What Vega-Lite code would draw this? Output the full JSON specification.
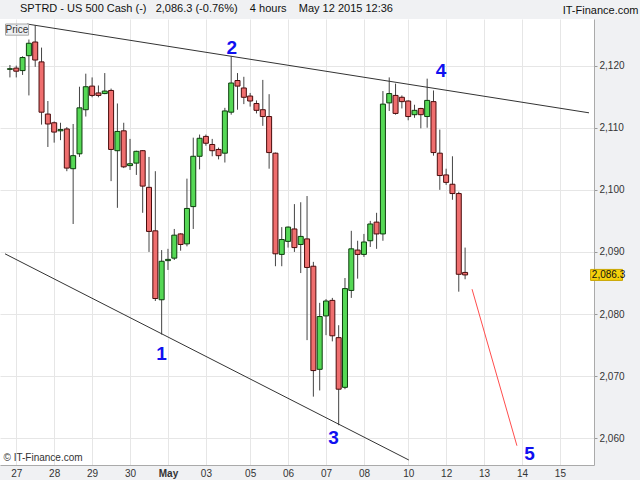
{
  "$schema": "https://vega.github.io/schema/vega-lite/v6.json",
  "width": 594,
  "height": 446,
  "autosize": {"type": "none"},
  "padding": {"left": 0, "top": 19, "right": 46, "bottom": 15},
  "background": "#f0f1f3",
  "title": {
    "text": "SPTRD - US 500 Cash (-)\u00a0\u00a0 2,086.3 (-0.76%)\u00a0\u00a0\u00a0 4 hours\u00a0\u00a0\u00a0 May 12 2015 12:36",
    "anchor": "start",
    "frame": "group",
    "dx": 20,
    "dy": 25,
    "offset": 6,
    "baseline": "alphabetic",
    "fontSize": 11,
    "fontWeight": "normal",
    "color": "#111111"
  },
  "datasets": {
    "candles": [
      {"i": 0, "o": 2119.4, "h": 2120.1, "l": 2118.1, "c": 2119.5},
      {"i": 1, "o": 2119.6, "h": 2120.0, "l": 2118.1, "c": 2119.1},
      {"i": 2, "o": 2119.2, "h": 2121.5, "l": 2118.5, "c": 2121.3},
      {"i": 3, "o": 2121.6, "h": 2124.2, "l": 2115.2, "c": 2123.6},
      {"i": 4, "o": 2123.8, "h": 2126.5, "l": 2119.8, "c": 2120.9},
      {"i": 5, "o": 2120.6, "h": 2122.9, "l": 2110.5, "c": 2112.5},
      {"i": 6, "o": 2112.2, "h": 2114.3, "l": 2106.9, "c": 2110.6},
      {"i": 7, "o": 2110.8, "h": 2111.0, "l": 2107.6, "c": 2109.3},
      {"i": 8, "o": 2109.5, "h": 2110.8, "l": 2108.0, "c": 2109.7},
      {"i": 9, "o": 2109.8, "h": 2110.1, "l": 2103.0, "c": 2103.5},
      {"i": 10, "o": 2103.4, "h": 2110.6, "l": 2094.5, "c": 2105.5},
      {"i": 11, "o": 2105.8, "h": 2116.6, "l": 2105.3, "c": 2113.2},
      {"i": 12, "o": 2112.9, "h": 2118.7, "l": 2111.8, "c": 2116.6},
      {"i": 13, "o": 2116.7, "h": 2118.1, "l": 2114.9, "c": 2115.2},
      {"i": 14, "o": 2115.6, "h": 2116.8, "l": 2114.9, "c": 2115.2},
      {"i": 15, "o": 2115.5, "h": 2118.8, "l": 2115.4, "c": 2115.9},
      {"i": 16, "o": 2116.0, "h": 2116.3, "l": 2101.4, "c": 2106.5},
      {"i": 17, "o": 2106.3, "h": 2113.9, "l": 2097.1, "c": 2109.4},
      {"i": 18, "o": 2109.5, "h": 2110.8, "l": 2103.5, "c": 2103.7},
      {"i": 19, "o": 2103.9, "h": 2108.2, "l": 2103.2, "c": 2104.2},
      {"i": 20, "o": 2104.3, "h": 2106.3, "l": 2102.4, "c": 2106.2},
      {"i": 21, "o": 2106.3, "h": 2106.4, "l": 2096.3, "c": 2100.6},
      {"i": 22, "o": 2100.4, "h": 2105.3, "l": 2090.0, "c": 2093.3},
      {"i": 23, "o": 2093.4, "h": 2103.0, "l": 2082.1, "c": 2082.5},
      {"i": 24, "o": 2082.3, "h": 2090.3, "l": 2076.7, "c": 2088.5},
      {"i": 25, "o": 2088.6, "h": 2090.5, "l": 2087.1, "c": 2088.8},
      {"i": 26, "o": 2089.0, "h": 2093.7, "l": 2088.7, "c": 2092.7},
      {"i": 27, "o": 2092.9, "h": 2093.0, "l": 2090.2, "c": 2091.2},
      {"i": 28, "o": 2091.3, "h": 2101.8, "l": 2090.9, "c": 2097.0},
      {"i": 29, "o": 2097.3, "h": 2108.4, "l": 2093.7, "c": 2105.4},
      {"i": 30, "o": 2105.4, "h": 2108.9, "l": 2103.3, "c": 2108.3},
      {"i": 31, "o": 2108.6, "h": 2108.9, "l": 2107.1, "c": 2107.5},
      {"i": 32, "o": 2107.3, "h": 2108.2, "l": 2105.4, "c": 2106.3},
      {"i": 33, "o": 2106.5, "h": 2106.8, "l": 2104.9, "c": 2105.5},
      {"i": 34, "o": 2105.9, "h": 2113.2, "l": 2104.4, "c": 2112.7},
      {"i": 35, "o": 2112.5, "h": 2121.5, "l": 2112.1, "c": 2117.2},
      {"i": 36, "o": 2117.6, "h": 2118.8, "l": 2112.9, "c": 2116.7},
      {"i": 37, "o": 2116.4, "h": 2118.2, "l": 2113.8, "c": 2114.9},
      {"i": 38, "o": 2115.1, "h": 2115.6, "l": 2113.4, "c": 2114.3},
      {"i": 39, "o": 2113.9, "h": 2114.4, "l": 2112.3, "c": 2112.8},
      {"i": 40, "o": 2112.9, "h": 2117.7, "l": 2110.3, "c": 2111.8},
      {"i": 41, "o": 2111.8, "h": 2115.4, "l": 2103.4, "c": 2106.0},
      {"i": 42, "o": 2105.9, "h": 2106.0, "l": 2087.7, "c": 2089.7},
      {"i": 43, "o": 2089.6, "h": 2094.0, "l": 2087.7, "c": 2092.0},
      {"i": 44, "o": 2091.7, "h": 2094.1, "l": 2090.7, "c": 2094.0},
      {"i": 45, "o": 2093.7, "h": 2097.7, "l": 2090.0, "c": 2090.7},
      {"i": 46, "o": 2091.2, "h": 2098.0, "l": 2086.6, "c": 2092.5},
      {"i": 47, "o": 2092.1, "h": 2099.0, "l": 2075.8, "c": 2087.5},
      {"i": 48, "o": 2087.7, "h": 2088.4, "l": 2066.7, "c": 2070.9},
      {"i": 49, "o": 2071.1, "h": 2081.8, "l": 2067.7, "c": 2079.6},
      {"i": 50, "o": 2079.7, "h": 2082.4, "l": 2076.6, "c": 2082.1},
      {"i": 51, "o": 2082.2, "h": 2082.6, "l": 2075.6, "c": 2076.5},
      {"i": 52, "o": 2076.2, "h": 2078.2, "l": 2062.1, "c": 2067.9},
      {"i": 53, "o": 2068.2, "h": 2085.8, "l": 2067.9, "c": 2084.1},
      {"i": 54, "o": 2083.8, "h": 2093.4, "l": 2082.6, "c": 2090.5},
      {"i": 55, "o": 2090.3, "h": 2091.8, "l": 2085.7, "c": 2089.6},
      {"i": 56, "o": 2089.6, "h": 2092.9, "l": 2089.2, "c": 2091.6},
      {"i": 57, "o": 2091.8, "h": 2095.0, "l": 2090.8, "c": 2094.5},
      {"i": 58, "o": 2094.8, "h": 2096.3, "l": 2090.5, "c": 2092.9},
      {"i": 59, "o": 2092.9, "h": 2115.9, "l": 2091.8, "c": 2113.8},
      {"i": 60, "o": 2114.0, "h": 2118.1, "l": 2112.7, "c": 2115.5},
      {"i": 61, "o": 2115.2, "h": 2117.1, "l": 2112.1, "c": 2112.3},
      {"i": 62, "o": 2114.9, "h": 2115.2, "l": 2113.1, "c": 2114.2},
      {"i": 63, "o": 2114.3, "h": 2114.4, "l": 2111.2, "c": 2111.8},
      {"i": 64, "o": 2112.1, "h": 2113.7, "l": 2111.6, "c": 2112.8},
      {"i": 65, "o": 2113.1, "h": 2113.2, "l": 2109.9, "c": 2112.1},
      {"i": 66, "o": 2111.8, "h": 2117.9, "l": 2110.0, "c": 2114.4},
      {"i": 67, "o": 2114.2, "h": 2116.0, "l": 2105.5, "c": 2106.0},
      {"i": 68, "o": 2105.9, "h": 2109.7, "l": 2100.0, "c": 2102.3},
      {"i": 69, "o": 2102.4, "h": 2103.4, "l": 2100.8, "c": 2101.2},
      {"i": 70, "o": 2100.9, "h": 2105.4, "l": 2098.4, "c": 2099.4},
      {"i": 71, "o": 2099.4, "h": 2099.7, "l": 2083.6, "c": 2086.4},
      {"i": 72, "o": 2086.7, "h": 2090.7, "l": 2085.6, "c": 2086.3}
    ],
    "trendlines": [
      {"line": "upper", "i": 2.7, "p": 2126.7},
      {"line": "upper", "i": 91.6, "p": 2112.4},
      {"line": "lower", "i": -0.78, "p": 2089.7},
      {"line": "lower", "i": 63.1, "p": 2056.5},
      {"line": "target", "i": 73.1, "p": 2084.0},
      {"line": "target", "i": 80.2, "p": 2058.8}
    ],
    "waves": [
      {"label": "1", "i": 24.0, "p": 2073.5},
      {"label": "2", "i": 35.1, "p": 2122.8},
      {"label": "3", "i": 51.2, "p": 2060.1},
      {"label": "4", "i": 68.2, "p": 2119.2},
      {"label": "5", "i": 82.2, "p": 2057.5}
    ]
  },
  "layer": [
    {
      "data": {"name": "candles"},
      "mark": {"type": "rule", "color": "#444444", "strokeWidth": 1},
      "encoding": {
        "x": {
          "field": "i",
          "type": "quantitative",
          "scale": {"domain": [-0.78, 91.6], "nice": false, "zero": false},
          "axis": {
            "orient": "bottom",
            "values": [1, 7, 13, 19, 25, 31, 38, 44, 50, 56, 63, 69, 75, 81, 87],
            "labelExpr": "['27','28','29','30','May','03','05','06','07','08','10','12','13','14','15'][indexof([1,7,13,19,25,31,38,44,50,56,63,69,75,81,87], datum.value)]",
            "labelFontWeight": {"condition": {"test": "datum.value == 25", "value": "bold"}, "value": "normal"},
            "labelFontSize": 10,
            "labelColor": "#333333",
            "labelOverlap": false,
            "labelFlush": false,
            "labelPadding": 3,
            "tickSize": 0,
            "domainColor": "#aaaaaa",
            "gridColor": "#e6e6e6",
            "title": "\u00a9 IT-Finance.com",
            "titleX": 3,
            "titleY": -3,
            "titleAlign": "left",
            "titleAnchor": "start",
            "titleBaseline": "bottom",
            "titleFontSize": 10,
            "titleFontWeight": "normal",
            "titleColor": "#333333"
          }
        },
        "y": {
          "field": "l",
          "type": "quantitative",
          "scale": {"domain": [2056.5, 2126.7], "nice": false, "zero": false},
          "axis": {
            "orient": "right",
            "values": [2060, 2065, 2070, 2075, 2080, 2085, 2090, 2095, 2100, 2105, 2110, 2115, 2120, 2125],
            "format": ",",
            "labelFontSize": 10,
            "labelColor": "#333333",
            "labelPadding": 2,
            "tickSize": 3,
            "tickColor": "#999999",
            "domainColor": "#aaaaaa",
            "gridColor": "#e6e6e6",
            "title": "IT-Finance.com",
            "titleAngle": 0,
            "titleX": 44,
            "titleY": -6,
            "titleAlign": "right",
            "titleBaseline": "alphabetic",
            "titleFontSize": 11,
            "titleFontWeight": "normal",
            "titleColor": "#111111"
          }
        },
        "y2": {"field": "h"}
      }
    },
    {
      "data": {"name": "trendlines"},
      "mark": {"type": "line", "strokeWidth": 1},
      "encoding": {
        "x": {"field": "i", "type": "quantitative"},
        "y": {"field": "p", "type": "quantitative"},
        "color": {
          "field": "line",
          "type": "nominal",
          "scale": {"domain": ["upper", "lower", "target"], "range": ["#333333", "#333333", "#ff4d4d"]},
          "legend": null
        }
      }
    },
    {
      "data": {"name": "candles"},
      "mark": {"type": "bar", "orient": "vertical", "size": 5, "strokeWidth": 1},
      "encoding": {
        "x": {"field": "i", "type": "quantitative"},
        "y": {"field": "o", "type": "quantitative"},
        "y2": {"field": "c"},
        "fill": {"condition": {"test": "datum.o <= datum.c", "value": "#55d855"}, "value": "#ef6e6e"},
        "stroke": {"condition": {"test": "datum.o <= datum.c", "value": "#0d3d0d"}, "value": "#4a0c0c"}
      }
    },
    {
      "data": {"name": "waves"},
      "mark": {"type": "text", "fontSize": 19, "fontWeight": "bold", "color": "#1010f0", "align": "center", "baseline": "middle"},
      "encoding": {
        "x": {"field": "i", "type": "quantitative"},
        "y": {"field": "p", "type": "quantitative"},
        "text": {"field": "label"}
      }
    },
    {
      "data": {"values": [{"name": "Price"}]},
      "mark": {"type": "rect", "fill": "#eef0f2", "stroke": "#a8a8a8", "strokeWidth": 1},
      "encoding": {
        "x": {"datum": -0.7, "type": "quantitative"},
        "x2": {"datum": 2.95},
        "y": {"datum": 2126.7, "type": "quantitative"},
        "y2": {"datum": 2124.9}
      }
    },
    {
      "data": {"values": [{"name": "Price"}]},
      "mark": {"type": "text", "fontSize": 10, "color": "#333333", "align": "center", "baseline": "middle"},
      "encoding": {
        "x": {"datum": 1.1, "type": "quantitative"},
        "y": {"datum": 2125.8, "type": "quantitative"},
        "text": {"field": "name"}
      }
    },
    {
      "data": {"name": "candles"},
      "transform": [{"filter": "datum.i == 72"}],
      "mark": {"type": "bar", "orient": "horizontal", "size": 11, "fill": "#f5d00c", "stroke": "#c9a400", "strokeWidth": 1},
      "encoding": {
        "x": {"datum": 91.85, "type": "quantitative"},
        "x2": {"datum": 96.9},
        "y": {"field": "c", "type": "quantitative"}
      }
    },
    {
      "data": {"name": "candles"},
      "transform": [{"filter": "datum.i == 72"}],
      "mark": {"type": "text", "fontSize": 10, "color": "#111111", "align": "left", "baseline": "middle"},
      "encoding": {
        "x": {"datum": 92.05, "type": "quantitative"},
        "y": {"field": "c", "type": "quantitative"},
        "text": {"field": "c", "type": "quantitative", "format": ",.1f"}
      }
    }
  ],
  "config": {
    "font": "Liberation Sans",
    "view": {"stroke": null, "fill": "#ffffff"}
  }
}
